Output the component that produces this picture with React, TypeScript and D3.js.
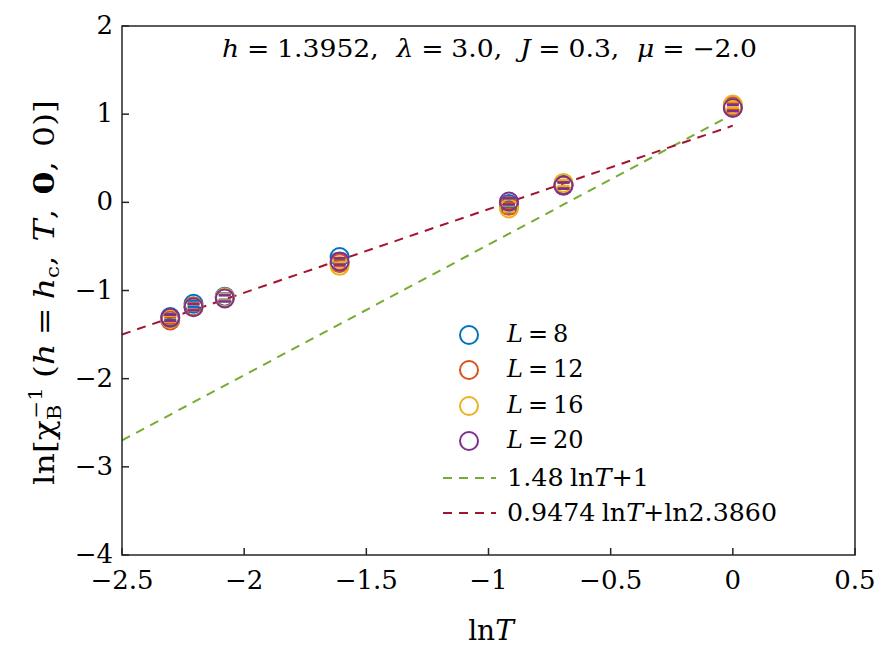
import React from "react";
import * as d3 from "d3";

const lnT = [-2.3026, -2.2073, -2.0794, -1.6094, -0.9163, -0.6931, 0];
const seriesNames = ["L=8", "L=12", "L=16", "L=20"];
const L8 = [-1.3, -1.15, -1.07, -0.62, -0.02, 0.2, 1.09];
const L12 = [-1.34, -1.18, -1.08, -0.69, -0.04, 0.19, 1.09];
const L16 = [-1.32, -1.19, -1.08, -0.72, -0.07, 0.22, 1.11];
const L20 = [-1.31, -1.19, -1.09, -0.67, 0.01, 0.19, 1.07];
const errs = [0.035, 0.035, 0.035, 0.035, 0.035, 0.035, 0.035];
const colors = ["#0072BD", "#D95319", "#EDB120", "#7E2F8E"];
const fitGreen = { slope: 1.48, intercept: 1 };
const fitRed = { slope: 0.9474, intercept: Math.log(2.386) };
const xTicks = [-2.5, -2, -1.5, -1, -0.5, 0, 0.5];
const yTicks = [-4, -3, -2, -1, 0, 1, 2];

const W = 889, H = 667;
const M = { l: 122, r: 855, t: 26, b: 555 };
const FONT = "'DejaVu Serif', 'Liberation Serif', serif";
const DASH = "9,7";

function fmt(v: number) {
  return String(v).replace("-", "\u2212");
}

export default function App() {
  const x = d3.scaleLinear().domain([-2.5, 0.5]).range([M.l, M.r]);
  const y = d3.scaleLinear().domain([-4, 2]).range([M.b, M.t]);
  const series = [L8, L12, L16, L20];
  const fitPath = (f: { slope: number; intercept: number }) =>
    d3.line<number>().x((d) => x(d)).y((d) => y(f.slope * d + f.intercept))([-2.5, 0]) || "";
  const legendY = [335, 370, 406, 441];
  return (
    <svg width={W} height={H} style={{ display: "block", position: "absolute", left: 0, top: 0 }} fontFamily={FONT}>
      <rect x={0} y={0} width={W} height={H} fill="#fff" />
      <path d={fitPath(fitGreen)} stroke="#77AC30" strokeWidth={2} strokeDasharray={DASH} fill="none" />
      <path d={fitPath(fitRed)} stroke="#A2142F" strokeWidth={2} strokeDasharray={DASH} fill="none" />
      {series.map((s, si) => (
        <g key={si}>
          {s.map((v, i) => {
            const cx = x(lnT[i]);
            const cy = y(v);
            const y1 = y(v + errs[i]);
            const y2 = y(v - errs[i]);
            return (
              <g key={i} stroke={colors[si]} strokeWidth={2} fill="none">
                <circle cx={cx} cy={cy} r={9} />
                <line x1={cx - 6} x2={cx + 6} y1={y1} y2={y1} strokeWidth={2.5} />
                <line x1={cx - 6} x2={cx + 6} y1={y2} y2={y2} strokeWidth={2.5} />
              </g>
            );
          })}
        </g>
      ))}
      <rect x={M.l} y={M.t} width={M.r - M.l} height={M.b - M.t} fill="none" stroke="#262626" strokeWidth={1.5} />
      {xTicks.map((t) => (
        <g key={"x" + t}>
          <line x1={x(t)} x2={x(t)} y1={M.b} y2={M.b - 7} stroke="#262626" strokeWidth={1.5} />
          <text x={x(t)} y={589} textAnchor="middle" fontSize={26} fill="#000">{fmt(t)}</text>
        </g>
      ))}
      {yTicks.map((t) => (
        <g key={"y" + t}>
          <line x1={M.l} x2={M.l + 7} y1={y(t)} y2={y(t)} stroke="#262626" strokeWidth={1.5} />
          <text x={113} y={y(t) + 8} textAnchor="end" fontSize={26} fill="#000">{fmt(t)}</text>
        </g>
      ))}
      <text x={222} y={57} fontSize={24} fill="#000" textLength={535} lengthAdjust="spacingAndGlyphs">
        <tspan fontStyle="italic">h</tspan>
        <tspan dx={7}>=</tspan>
        <tspan dx={7}>1.3952,</tspan>
        <tspan dx={16} fontStyle="italic">λ</tspan>
        <tspan dx={7}>=</tspan>
        <tspan dx={7}>3.0,</tspan>
        <tspan dx={16} fontStyle="italic">J</tspan>
        <tspan dx={7}>=</tspan>
        <tspan dx={7}>0.3,</tspan>
        <tspan dx={16} fontStyle="italic">μ</tspan>
        <tspan dx={7}>=</tspan>
        <tspan dx={7}>−2.0</tspan>
      </text>
      <text x={491} y={640} textAnchor="middle" fontSize={28} fill="#000">
        <tspan>ln</tspan>
        <tspan fontStyle="italic">T</tspan>
      </text>
      <text transform={`translate(54,485) rotate(-90)`} fontSize={28} fill="#000" textLength={385} lengthAdjust="spacingAndGlyphs">
        <tspan>ln[χ</tspan>
        <tspan fontSize={18} dy={7}>B</tspan>
        <tspan fontSize={18} dy={-19} dx={-12}>−1</tspan>
        <tspan dy={12} dx={8}>(</tspan>
        <tspan fontStyle="italic">h</tspan>
        <tspan dx={7}>=</tspan>
        <tspan dx={7} fontStyle="italic">h</tspan>
        <tspan fontSize={18} dy={5}>c</tspan>
        <tspan dy={-5}>,</tspan>
        <tspan dx={12} fontStyle="italic">T</tspan>
        <tspan>,</tspan>
        <tspan dx={12} fontWeight="bold">0</tspan>
        <tspan>,</tspan>
        <tspan dx={12}>0)]</tspan>
      </text>
      {seriesNames.map((n, i) => (
        <g key={n}>
          <circle cx={469} cy={legendY[i]} r={9} stroke={colors[i]} strokeWidth={2} fill="none" />
          <text x={507} y={legendY[i] + 7} fontSize={24} fill="#000">
            <tspan fontStyle="italic">L</tspan>
            <tspan dx={5}>=</tspan>
            <tspan dx={5}>{n.split("=")[1]}</tspan>
          </text>
        </g>
      ))}
      <line x1={443} x2={496} y1={478} y2={478} stroke="#77AC30" strokeWidth={2} strokeDasharray={DASH} />
      <text x={507} y={486} fontSize={24} fill="#000" textLength={142} lengthAdjust="spacingAndGlyphs">
        <tspan>1.48</tspan>
        <tspan dx={6}>ln</tspan>
        <tspan fontStyle="italic">T</tspan>
        <tspan>+1</tspan>
      </text>
      <line x1={443} x2={496} y1={513} y2={513} stroke="#A2142F" strokeWidth={2} strokeDasharray={DASH} />
      <text x={507} y={521} fontSize={24} fill="#000" textLength={270} lengthAdjust="spacingAndGlyphs">
        <tspan>0.9474</tspan>
        <tspan dx={6}>ln</tspan>
        <tspan fontStyle="italic">T</tspan>
        <tspan>+ln2.3860</tspan>
      </text>
    </svg>
  );
}
